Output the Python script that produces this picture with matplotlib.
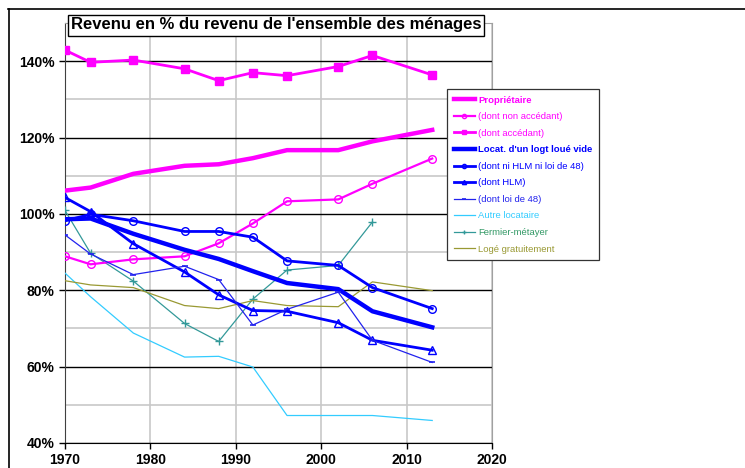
import matplotlib
matplotlib.use("Agg")
import matplotlib.pyplot as plt
from matplotlib.lines import Line2D
from matplotlib.ticker import MultipleLocator, FuncFormatter

plt.rcParams['font.family'] = ['Liberation Sans', 'DejaVu Sans']

# data (% of the income of all households)
years = [1970, 1973, 1978, 1984, 1988, 1992, 1996, 2002, 2006, 2013]
proprietaire = [106.1, 106.9, 110.5, 112.6, 113.0, 114.6, 116.7, 116.7, 119.0, 122.0]
non_accedant = [88.9, 86.8, 88.1, 88.9, 92.3, 97.5, 103.3, 103.8, 107.9, 114.5]
accedant = [142.9, 139.7, 140.3, 138.0, 134.9, 137.0, 136.2, 138.6, 141.5, 136.4]
locataire_vide = [98.6, 98.8, 94.8, 90.6, 88.2, 85.0, 81.9, 80.3, 74.5, 70.3]
ni_hlm = [98.2, 99.9, 98.2, 95.4, 95.4, 93.9, 87.7, 86.5, 80.7, 75.2]
hlm = [104.3, 100.6, 92.2, 84.8, 78.8, 74.7, 74.5, 71.5, 66.9, 64.3]
loi48 = [94.5, 89.5, 84.1, 86.3, 82.8, 70.9, 75.0, 79.5, 66.9, 61.1]
autre_loc = [84.5, 78.3, 68.8, 62.5, 62.7, 59.9, 47.2, 47.2, 47.2, 45.9]
fermier_years = [1970, 1973, 1978, 1984, 1988, 1992, 1996, 2002, 2006]
fermier = [100.9, 89.7, 82.4, 71.3, 66.6, 77.7, 85.3, 86.5, 97.9]
loge_gratuit = [82.5, 81.4, 80.7, 76.0, 75.2, 77.3, 76.0, 75.7, 82.2, 79.9]

fig = plt.figure(figsize=(7.45, 4.68), dpi=100)
ax = fig.add_axes([65/745, 25/468, 427/745, 420/468])

magenta = '#FF00FF'
blue = '#0000FF'
cyan = '#33CCFF'
teal = '#339999'
olive = '#999933'

ax.plot(years, proprietaire, color=magenta, lw=3.2, label='Propriétaire', zorder=5)
ax.plot(years, non_accedant, color=magenta, lw=1.6, marker='o', ms=5.5, mfc='none',
        mew=1.0, label='(dont non accédant)', zorder=5)
ax.plot(years, accedant, color=magenta, lw=2.0, marker='s', ms=5.5,
        label='(dont accédant)', zorder=5)
ax.plot(years, locataire_vide, color=blue, lw=3.2, label="Locat. d'un logt loué vide", zorder=5)
ax.plot(years, ni_hlm, color=blue, lw=2.0, marker='o', ms=5.5, mfc='none', mew=1.0,
        label='(dont ni HLM ni loi de 48)', zorder=5)
ax.plot(years, hlm, color=blue, lw=2.0, marker='^', ms=5.5, mfc='none', mew=1.0,
        label='(dont HLM)', zorder=5)
ax.plot(years, loi48, color='#2222EE', lw=0.9, marker='_', ms=5, mew=1.2,
        label='(dont loi de 48)', zorder=5)
ax.plot(years, autre_loc, color=cyan, lw=0.9, label='Autre locataire', zorder=4)
ax.plot(fermier_years, fermier, color=teal, lw=0.9, marker='+', ms=6, mew=1.0,
        label='Fermier-métayer', zorder=4)
ax.plot(years, loge_gratuit, color=olive, lw=0.9, label='Logé gratuitement', zorder=4)

ax.set_xlim(1970, 2020)
ax.set_ylim(40, 150)
ax.xaxis.set_major_locator(MultipleLocator(10))
ax.yaxis.set_major_locator(MultipleLocator(20))
ax.yaxis.set_minor_locator(MultipleLocator(10))
ax.yaxis.set_major_formatter(FuncFormatter(lambda v, p: f'{v:.0f}%'))
ax.grid(axis='y', which='minor', color='#C8C8C8', lw=1.2)
ax.grid(axis='y', which='major', color='black', lw=1.0)
ax.grid(axis='x', which='major', color='#C8C8C8', lw=1.2)
ax.tick_params(axis='y', which='minor', length=0)
ax.tick_params(axis='both', which='major', direction='out', length=4, width=1,
               labelsize=10)
ax.set_axisbelow(True)
for lab in ax.get_xticklabels() + ax.get_yticklabels():
    lab.set_fontweight('bold')
ax.spines['top'].set_color('#A0A0A0')
ax.spines['right'].set_color('#A0A0A0')
ax.spines['left'].set_color('#404040')
ax.spines['bottom'].set_color('black')

# title in a framed box
fig.text(276/745, 1 - 25/468, "Revenu en % du revenu de l'ensemble des ménages",
         ha='center', va='center', fontsize=12, fontweight='bold',
         bbox=dict(boxstyle='square,pad=0.18', fc='white', ec='black', lw=1.0))

leg = ax.legend(loc='upper left', bbox_to_anchor=(447/745, 1 - 89/468),
                bbox_transform=fig.transFigure, fontsize=6.8, frameon=True,
                fancybox=False, edgecolor='#333333', framealpha=1,
                handlelength=2.3, handletextpad=0.3, labelspacing=0.8,
                borderpad=0.7, borderaxespad=0, markerscale=0.55)
leg.get_frame().set_linewidth(0.9)
for line, text in zip(leg.get_lines(), leg.get_texts()):
    text.set_color(line.get_color())
    if text.get_text() in ('Propriétaire', "Locat. d'un logt loué vide"):
        text.set_fontweight('bold')
    if text.get_text() == 'Fermier-métayer':
        text.set_color('#339966')

# outer chart frame
fig.add_artist(Line2D([8/745, 1], [1 - 9/468, 1 - 9/468], color='black', lw=1.2,
                      transform=fig.transFigure))
fig.add_artist(Line2D([9/745, 9/745], [0, 1 - 9/468], color='black', lw=1.2,
                      transform=fig.transFigure))

fig.savefig('out.png', dpi=100)
